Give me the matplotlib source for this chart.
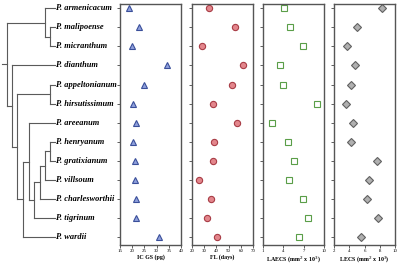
import matplotlib.pyplot as plt
import numpy as np

plt.rcParams['font.family'] = ['Liberation Serif', 'DejaVu Serif']

species = ['P. armenicacum', 'P. malipoense', 'P. micranthum', 'P. dianthum',
           'P. appeltonianum', 'P. hirsutissimum', 'P. areeanum', 'P. henryanum',
           'P. gratixianum', 'P. villsoum', 'P. charlesworthii', 'P. tigrinum',
           'P. wardii']

ic_gs = [18.8, 22.8, 20.0, 34.1, 24.9, 20.5, 21.5, 20.4, 21.2, 21.2, 21.5, 21.7, 30.8]
fl = [33.9, 55.0, 28.2, 61.8, 53.0, 37.2, 57.1, 37.8, 37.0, 25.7, 35.3, 32.0, 40.7]
laecs = [4.1, 5.05, 6.9, 3.5, 4.0, 9.0, 2.35, 4.75, 5.5, 4.9, 6.95, 7.6, 6.25]
lecs = [8.25, 4.98, 3.75, 4.8, 4.27, 3.57, 4.53, 4.27, 7.64, 6.55, 6.37, 7.82, 5.54]

# tree topology: (node depth, children); leaves are species names
tree = (6.7, [(45, ['P. armenicacum', (50, ['P. malipoense', 'P. micranthum'])]),
              (12.3, ['P. dianthum',
                      (17.3, [(50, ['P. appeltonianum', 'P. hirsutissimum']),
                              (22.7, [(29.3, ['P. areeanum',
                                              (34.3, [(40, [(45, [(50, ['P. henryanum', 'P. gratixianum']),
                                                                  'P. villsoum']),
                                                            'P. charlesworthii']),
                                                      'P. tigrinum'])]),
                                      'P. wardii'])])])])
leaf_x = 55
root_x = 1.7

fig = plt.figure(figsize=(4.0, 2.63), dpi=100)
bottom, height = 1 - 245 / 263, 241 / 263
ylim = (12.4, -0.22)

# ---- tree ----
axt = fig.add_axes([0, bottom, 120 / 400, height])
axt.set_xlim(0, 120)
axt.set_ylim(*ylim)
axt.axis('off')
tc = '#5a5a5a'


def draw(node, parent_x):
    if isinstance(node, str):
        y = species.index(node)
        axt.plot([parent_x, leaf_x], [y, y], color=tc, lw=0.8)
        axt.text(leaf_x + 1.5, y, node, fontsize=6, fontweight='bold', style='italic',
                 va='center', ha='left')
        return y
    x, kids = node
    ys = [draw(k, x) for k in kids]
    axt.plot([x, x], [min(ys), max(ys)], color=tc, lw=0.8)
    ym = (min(ys) + max(ys)) / 2
    axt.plot([parent_x, x], [ym, ym], color=tc, lw=0.8)
    return ym


draw(tree, root_x)

# ---- trait panels ----
rows = np.arange(len(species))
panels = [
    (120, ic_gs, (15, 40), [15, 20, 25, 30, 35, 40], 'IC GS (pg)', '^', '#8fa0dc', '#3a4f9a'),
    (192, fl, (20, 70), [20, 30, 40, 50, 60, 70], 'FL (days)', 'o', '#e3868c', '#a83c45'),
    (263, laecs, (1, 10), [1, 4, 7, 10], 'LAECS (mm$^2$ x 10$^3$)', 's', 'white', '#5a9e48'),
    (334, lecs, (2, 10), [2, 4, 6, 8, 10], 'LECS (mm$^2$ x 10$^3$)', 'D', '#b0b0b0', '#606060'),
]
for left, vals, xl, ticks, label, mk, fc, ec in panels:
    ax = fig.add_axes([left / 400, bottom, 61 / 400, height])
    ax.plot(vals, rows, linestyle='none', marker=mk, markersize=4.5,
            markerfacecolor=fc, markeredgecolor=ec, markeredgewidth=0.8)
    ax.set_xlim(*xl)
    ax.set_ylim(*ylim)
    ax.set_xticks(ticks)
    ax.set_yticks(rows)
    ax.set_yticklabels([])
    ax.tick_params(axis='both', length=2, width=0.6, labelsize=3.5, pad=1.2, color='#444444')
    for s in ax.spines.values():
        s.set_color('#555555')
        s.set_linewidth(1.0)
    ax.set_xlabel(label, fontsize=4.3, fontweight='bold', labelpad=0.5)

fig.savefig('out.png', dpi=100)
